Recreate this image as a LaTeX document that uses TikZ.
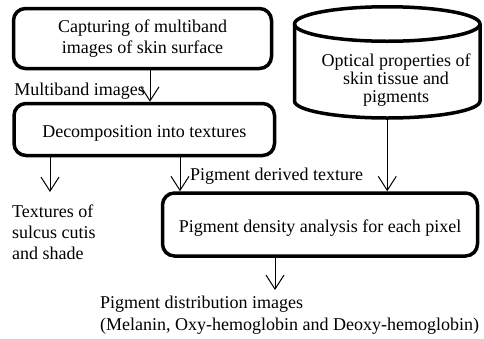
\documentclass[tikz,border=0pt]{standalone}
\usepackage{fontspec}
\setmainfont{Liberation Serif}
\usetikzlibrary{arrows.meta}
\begin{document}
\begin{tikzpicture}[x=1pt,y=-1pt,
  box/.style={draw, line width=3.5pt, rounded corners=12pt, inner sep=0pt, align=center, font=\fontsize{18}{21}\selectfont},
  one/.style={text height=15pt, text depth=0pt},
  lbl/.style={inner sep=0pt, align=left, font=\fontsize{18}{21}\selectfont},
  cylline/.style={line width=3.5pt},
  arr/.style={line width=1pt, -{Straight Barb[length=14pt,width=18pt,line width=1pt]}}
]
\useasboundingbox (0,0) rectangle (484,338);

% boxes
\node[box, minimum width=258pt, minimum height=60pt] (cap) at (142.5,38.5) {Capturing of multiband\\images of skin surface};
\node[box, one, minimum width=260.5pt, minimum height=52pt] (dec) at (144.25,129.5) {Decomposition into textures};
\node[box, one, minimum width=315pt, minimum height=63pt] (pda) at (320,224.5) {Pigment density analysis for each pixel};

% cylinder
\draw[cylline] (387.25,24) ellipse [x radius=92.75, y radius=17.25];
\draw[cylline] (294.5,24) -- (294.5,101) arc[start angle=180, end angle=0, x radius=92.75, y radius=17] -- (480,24);
\node[lbl, align=center, anchor=north, font=\fontsize{18}{18}\selectfont] (opt) at (396,53.7) {Optical properties of\\skin tissue and\\pigments};
\coordinate (cylb) at (387.25,118);

% labels
\node[lbl, anchor=base east] (mb) at (145,95) {Multiband images};
\node[lbl, anchor=base west] (pdt) at (190,180) {Pigment derived texture};
\node[lbl, anchor=north west] (tex) at (12,204.7) {Textures of\\sulcus cutis\\and shade};
\node[lbl, anchor=north west, font=\fontsize{18}{22}\selectfont] (out) at (100,295.7) {Pigment distribution images\\(Melanin, Oxy-hemoglobin and Deoxy-hemoglobin)};

% connector points
\coordinate (a1) at ([xshift=7.5pt]cap.south);
\coordinate (d1) at ([xshift=-94.25pt]dec.south);
\coordinate (d2) at ([xshift=35.75pt]dec.south);
\coordinate (p1) at ([xshift=-45pt]pda.south);
\coordinate (texend) at (50,192);
\coordinate (outend) at (275,290);

% connectors
\draw[arr] (a1) -- (a1 |- dec.north);
\draw[arr] (d1) -- (texend);
\draw[arr] (d2) -- (d2 |- pda.north);
\draw[arr] (cylb) -- (cylb |- pda.north);
\draw[arr] (p1) -- (outend);
\end{tikzpicture}
\end{document}
